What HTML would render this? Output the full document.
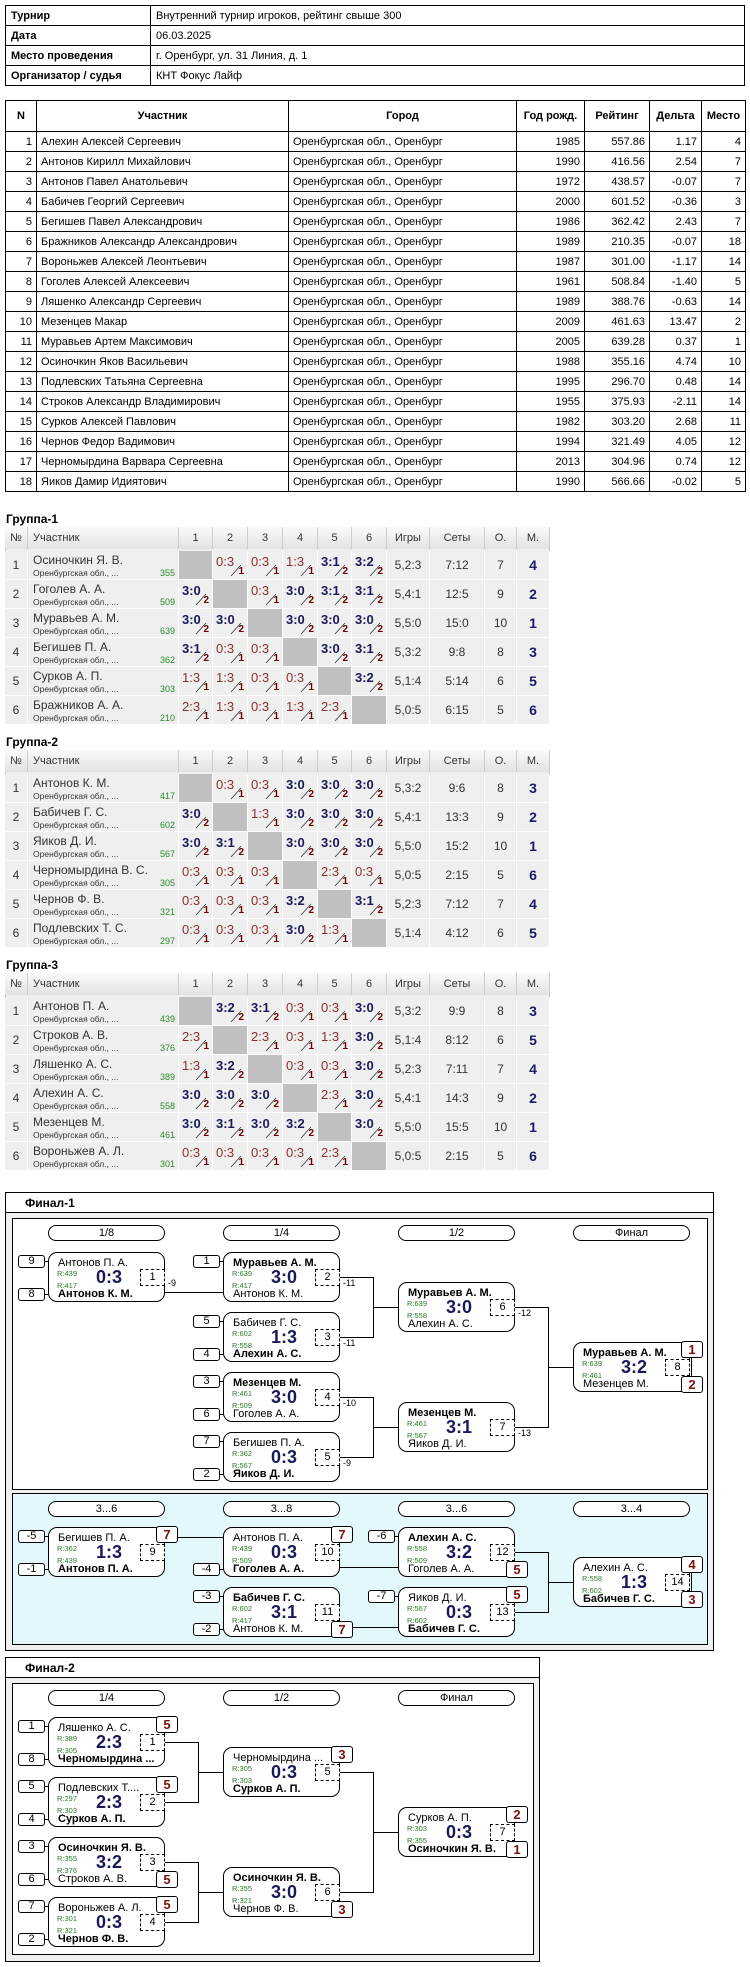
<!DOCTYPE html>
<html><head><meta charset="utf-8">
<style>
*{box-sizing:border-box;margin:0;padding:0}
body{width:750px;height:1967px;background:#fff;position:relative;font-family:"Liberation Sans",sans-serif;overflow:hidden}
.abs{position:absolute}
table{border-collapse:collapse;table-layout:fixed;position:absolute}
.t1 td{border:1px solid #000;height:20px;font-size:11px;padding:0 5px;white-space:nowrap;font-family:"Liberation Sans Narrow","Liberation Sans",sans-serif}
.t1 td.b{font-weight:bold}
.t2 td,.t2 th{border:1px solid #000;font-size:11px;padding:0 4px;white-space:nowrap;overflow:hidden;font-family:"Liberation Sans Narrow","Liberation Sans",sans-serif}
.t2 th{height:31px;font-weight:bold}
.t2 td{height:20px}
.t2 .r{text-align:right}
.glabel{position:absolute;left:6px;font-size:12px;font-weight:bold}
.gt{position:absolute;left:5px;border:1px solid #bbb;background:#eee}
.gh{position:absolute;height:22px;border-right:1px solid #ccc;background:linear-gradient(#fafafa,#e2e2e2);font-size:11px;color:#333;line-height:22px;text-align:center}
.gc{position:absolute;height:29px;border-right:1px solid #fff;border-bottom:1px solid #fff;background:#efefef;font-size:11px;color:#333}
.gray{background:#c0c0c0}
.box{position:absolute;border:1px solid #000}
.pill{position:absolute;width:117px;height:16px;border:1px solid #000;border-radius:8px;background:#fff;font-size:11px;text-align:center;line-height:14px}
.mb{position:absolute;width:117px;height:50px;border:1px solid #000;border-radius:9px;background:#fff}
.nm{position:absolute;left:9px;font-size:11px;white-space:nowrap;line-height:12px}
.rt{position:absolute;left:8px;font-size:7.5px;color:#2a7a2a;line-height:8px}
.sc{position:absolute;left:38px;width:44px;text-align:center;top:15px;font-size:18px;font-weight:bold;color:#1a1a5a;line-height:19px}
.num{position:absolute;right:-1px;top:16px;width:25px;height:17px;border:1px dashed #000;font-size:11px;text-align:center;line-height:15px;background:#fff}
.seed{position:absolute;width:27px;height:13px;border:1px solid #000;border-radius:3px;background:#fff;font-size:11px;text-align:center;line-height:11px}
.pl{position:absolute;width:22px;height:17px;border:1px solid #000;border-radius:3px;background:#fff;font-size:13px;font-weight:bold;color:#7a1010;text-align:center;line-height:15px}
.ln{position:absolute;background:#000}
.lbl{position:absolute;font-size:9px}
</style></head><body>

<table class="t1" style="left:5px;top:5px;width:740px">
<colgroup><col style="width:145px"><col></colgroup>
<tr><td class="b">Турнир</td><td>Внутренний турнир игроков, рейтинг свыше 300</td></tr>
<tr><td class="b">Дата</td><td>06.03.2025</td></tr>
<tr><td class="b">Место проведения</td><td>г. Оренбург, ул. 31 Линия, д. 1</td></tr>
<tr><td class="b">Организатор / судья</td><td>КНТ Фокус Лайф</td></tr>
</table>

<table class="t2" id="players" style="left:5px;top:100px;width:740px">
<colgroup><col style="width:31px"><col style="width:252px"><col style="width:228px"><col style="width:68px"><col style="width:65px"><col style="width:52px"><col style="width:44px"></colgroup>
<tr><th>N</th><th>Участник</th><th>Город</th><th>Год рожд.</th><th>Рейтинг</th><th>Дельта</th><th>Место</th></tr>
</table>

<div id="groups"></div>
<div id="finals"></div>

<script>
const playerNames=["Алехин Алексей Сергеевич","Антонов Кирилл Михайлович","Антонов Павел Анатольевич","Бабичев Георгий Сергеевич","Бегишев Павел Александрович","Бражников Александр Александрович","Вороньжев Алексей Леонтьевич","Гоголев Алексей Алексеевич","Ляшенко Александр Сергеевич","Мезенцев Макар","Муравьев Артем Максимович","Осиночкин Яков Васильевич","Подлевских Татьяна Сергеевна","Строков Александр Владимирович","Сурков Алексей Павлович","Чернов Федор Вадимович","Черномырдина Варвара Сергеевна","Яиков Дамир Идиятович"];
const playerYears=[1985,1990,1972,2000,1986,1989,1987,1961,1989,2009,2005,1988,1995,1955,1982,1994,2013,1990];
const playerRatings=["557.86","416.56","438.57","601.52","362.42","210.35","301.00","508.84","388.76","461.63","639.28","355.16","296.70","375.93","303.20","321.49","304.96","566.66"];
const playerDeltas=["1.17","2.54","-0.07","-0.36","2.43","-0.07","-1.17","-1.40","-0.63","13.47","0.37","4.74","0.48","-2.11","2.68","4.05","0.74","-0.02"];
const playerPlaces=[4,7,7,3,7,18,14,5,14,2,1,10,14,14,11,12,12,5];

const groupTitles=["Группа-1","Группа-2","Группа-3"];
const groupNames=[["Осиночкин Я. В.","Гоголев А. А.","Муравьев А. М.","Бегишев П. А.","Сурков А. П.","Бражников А. А."],
["Антонов К. М.","Бабичев Г. С.","Яиков Д. И.","Черномырдина В. С.","Чернов Ф. В.","Подлевских Т. С."],
["Антонов П. А.","Строков А. В.","Ляшенко А. С.","Алехин А. С.","Мезенцев М.","Вороньжев А. Л."]];
const groupRatings=[[355,509,639,362,303,210],[417,602,567,305,321,297],[439,376,389,558,461,301]];
const groupScores=[
[["","0:3","0:3","1:3","3:1","3:2"],["3:0","","0:3","3:0","3:1","3:1"],["3:0","3:0","","3:0","3:0","3:0"],["3:1","0:3","0:3","","3:0","3:1"],["1:3","1:3","0:3","0:3","","3:2"],["2:3","1:3","0:3","1:3","2:3",""]],
[["","0:3","0:3","3:0","3:0","3:0"],["3:0","","1:3","3:0","3:0","3:0"],["3:0","3:1","","3:0","3:0","3:0"],["0:3","0:3","0:3","","2:3","0:3"],["0:3","0:3","0:3","3:2","","3:1"],["0:3","0:3","0:3","3:0","1:3",""]],
[["","3:2","3:1","0:3","0:3","3:0"],["2:3","","2:3","0:3","1:3","3:0"],["1:3","3:2","","0:3","0:3","3:0"],["3:0","3:0","3:0","","2:3","3:0"],["3:0","3:1","3:0","3:2","","3:0"],["0:3","0:3","0:3","0:3","2:3",""]]];
const groupGames=[["5,2:3","5,4:1","5,5:0","5,3:2","5,1:4","5,0:5"],["5,3:2","5,4:1","5,5:0","5,0:5","5,2:3","5,1:4"],["5,3:2","5,1:4","5,2:3","5,4:1","5,5:0","5,0:5"]];
const groupSets=[["7:12","12:5","15:0","9:8","5:14","6:15"],["9:6","13:3","15:2","2:15","7:12","4:12"],["9:9","8:12","7:11","14:3","15:5","2:15"]];
const groupPoints=[[7,9,10,8,6,5],[8,9,10,5,7,6],[8,6,7,9,10,5]];
const groupPlaces=[[4,2,1,3,5,6],[3,2,1,6,4,5],[3,5,4,2,1,6]];

const pt=document.getElementById('players');
playerNames.forEach((n,i)=>{
  const tr=document.createElement('tr');
  
  
  tr.innerHTML=`<td class="r">${i+1}</td><td>${n}</td><td>Оренбургская обл., Оренбург</td><td class="r">${playerYears[i]}</td><td class="r">${playerRatings[i]}</td><td class="r">${playerDeltas[i]}</td><td class="r">${playerPlaces[i]}</td>`;
  pt.appendChild(tr);
});

function mk(parent,cls,style,html){const d=document.createElement('div');if(cls)d.className=cls;d.style.cssText=style;if(html!==undefined)d.innerHTML=html;parent.appendChild(d);return d;}

const colX=[5,28,179,213,248,283,318,352,387,430,485,517,550];
const hdr=["№","Участник","1","2","3","4","5","6","Игры","Сеты","О.","М."];
const G=document.getElementById('groups');
groupTitles.forEach((t,g)=>{
  const Y=512+g*223;
  const lab=mk(G,'glabel',`top:${Y}px`,t);
  
  
  const tb=mk(G,'gt',`top:${Y+15}px;width:${550-5}px;height:${22+2+6*29}px`);
  
  
  hdr.forEach((h,c)=>{
    const d=mk(G,'gh',`left:${colX[c]}px;top:${Y+15}px;width:${colX[c+1]-colX[c]}px;${c==1?'text-align:left;padding-left:5px':''}`,h);
    
    
  });
  for(let r=0;r<6;r++){
    const ry=Y+39+r*29;
    const a=mk(G,'gc',`left:5px;top:${ry}px;width:23px;text-align:center;line-height:29px;font-size:12px`,r+1);
    
    
    const p=mk(G,'gc',`left:28px;top:${ry}px;width:151px`,`<div class="abs" style="left:5px;top:2px;font-size:12px">${groupNames[g][r]}</div><div class="abs" style="left:5px;top:17px;font-size:8.5px">Оренбургская обл., ...</div><div class="abs" style="right:3px;top:17px;font-size:9px;color:#2a8a2a">${groupRatings[g][r]}</div>`);
    
    
    for(let c=0;c<6;c++){
      const x=colX[c+2],w=colX[c+3]-x;
      const s=groupScores[g][r][c];
      if(!s){const e=mk(G,'gc gray',`left:${x}px;top:${ry}px;width:${w}px`);
        
        continue;}
      const [a1,b1]=s.split(':').map(Number);
      const win=a1>b1;
      const html=`<div class="abs" style="left:3px;top:3px;font-size:13px;${win?'font-weight:bold;color:#1a1a5a':'color:#8a3030'}">${s}</div>
      <svg class="abs" style="left:0;top:0" width="${w}" height="29"><line x1="${w-17}" y1="25" x2="${w-7}" y2="14" stroke="#333" stroke-width="0.8"/></svg>
      <div class="abs" style="right:3px;top:15px;font-size:10px;font-weight:bold;color:#6a0000">${win?2:1}</div>`;
      const e=mk(G,'gc',`left:${x}px;top:${ry}px;width:${w}px`,html);
      
      
    }
    const vals=[groupGames[g][r],groupSets[g][r],groupPoints[g][r],groupPlaces[g][r]];
    vals.forEach((v,k)=>{
      const x=colX[8+k],w=colX[9+k]-x;
      const e=mk(G,'gc',`left:${x}px;top:${ry}px;width:${w}px;text-align:center;line-height:29px;${k==3?'font-size:14px;font-weight:bold;color:#1a1a6a':'font-size:12px'}`,v);
      
      
    });
  }
});

const bx=[48,223,398,573];
const F=document.getElementById('finals');
function frame(top,right,bottom,title){
  const o=mk(F,'box',`left:5px;top:${top}px;width:${right-5}px;height:${bottom-top}px;background:#f0f0f0`);
  
  
  const tt=mk(F,'box',`left:5px;top:${top}px;width:${right-5}px;height:${21}px;background:#fff`);
  
  
  const tl=mk(F,'abs',`left:25px;top:${top+4}px;font-size:12px;font-weight:bold`,title);
  
  
}
function panel(top,bottom,right,bg){
  const p=mk(F,'box',`left:12px;top:${top}px;width:${right-12}px;height:${bottom-top}px;background:${bg}`);
  
  
}
function pills(y,labels){
  labels.forEach((l,i)=>{const p=mk(F,'pill',`left:${bx[i]}px;top:${y}px`,l);
    
    });
}
function line(x1,y1,x2,y2){
  if(y1==y2)return mk(F,'ln',`left:${Math.min(x1,x2)}px;top:${y1}px;width:${Math.abs(x2-x1)+1}px;height:1px`);
  return mk(F,'ln',`left:${x1}px;top:${Math.min(y1,y2)}px;width:1px;height:${Math.abs(y2-y1)+1}px`);
}
function match(m){
  const x=bx[m.c],y=m.y;
  const [a1,b1]=m.sc.split(':').map(Number);
  const topWin=a1>b1;
  const box=mk(F,'mb',`left:${x}px;top:${y}px`,
   `<div class="nm" style="top:4px;${topWin?'font-weight:bold':''}">${m.a}</div>
    <div class="rt" style="top:17px">R:${m.ra}</div><div class="rt" style="top:29px">R:${m.rb}</div>
    <div class="sc">${m.sc}</div>
    <div class="nm" style="top:35px;${!topWin?'font-weight:bold':''}">${m.b}</div>
    <div class="num">${m.n}</div>`);
  
  
  if(m.s1!==undefined){line(x-3,y+9,x,y+9);const s=mk(F,'seed',`left:${x-30}px;top:${y+3}px`,m.s1);
    
    }
  if(m.s2!==undefined){line(x-3,y+42,x,y+42);const s=mk(F,'seed',`left:${x-30}px;top:${y+36}px`,m.s2);
    
    }
  if(m.p1!==undefined){const p=mk(F,'pl',`left:${x+108}px;top:${y-1}px`,m.p1);
    
    }
  if(m.p2!==undefined){const p=mk(F,'pl',`left:${x+108}px;top:${y+34}px`,m.p2);
    
    }
  if(m.p1!==undefined&&m.p2!==undefined&&m.c==3){line(x+117+1,y+16,x+117+1,y+34);}
  if(m.l){const l=mk(F,'lbl',`left:${x+120}px;top:${y+26}px`,m.l);
    
    }
}
function pair(m1,m2,t){
  const x=bx[m1.c]+117, vx=x+33, y1=m1.y+25, y2=m2.y+25, ty=t.y+25;
  line(x,y1,vx,y1);line(x,y2,vx,y2);line(vx,y1,vx,y2);line(vx,ty,bx[t.c],ty);
}

const f1Rounds=["1/8","1/4","1/2","Финал"];
const f1Matches=[
 {c:0,y:1252,a:"Антонов П. А.",b:"Антонов К. М.",ra:439,rb:417,sc:"0:3",n:1,s1:9,s2:8,l:"-9"},
 {c:1,y:1252,a:"Муравьев А. М.",b:"Антонов К. М.",ra:639,rb:417,sc:"3:0",n:2,s1:1,l:"-11"},
 {c:1,y:1312,a:"Бабичев Г. С.",b:"Алехин А. С.",ra:602,rb:558,sc:"1:3",n:3,s1:5,s2:4,l:"-11"},
 {c:1,y:1372,a:"Мезенцев М.",b:"Гоголев А. А.",ra:461,rb:509,sc:"3:0",n:4,s1:3,s2:6,l:"-10"},
 {c:1,y:1432,a:"Бегишев П. А.",b:"Яиков Д. И.",ra:362,rb:567,sc:"0:3",n:5,s1:7,s2:2,l:"-9"},
 {c:2,y:1282,a:"Муравьев А. М.",b:"Алехин А. С.",ra:639,rb:558,sc:"3:0",n:6,l:"-12"},
 {c:2,y:1402,a:"Мезенцев М.",b:"Яиков Д. И.",ra:461,rb:567,sc:"3:1",n:7,l:"-13"},
 {c:3,y:1342,a:"Муравьев А. М.",b:"Мезенцев М.",ra:639,rb:461,sc:"3:2",n:8,p1:1,p2:2}];
const f1bRounds=["3...6","3...8","3...6","3...4"];
const f1bMatches=[
 {c:0,y:1527,a:"Бегишев П. А.",b:"Антонов П. А.",ra:362,rb:439,sc:"1:3",n:9,s1:-5,s2:-1,p1:7},
 {c:1,y:1527,a:"Антонов П. А.",b:"Гоголев А. А.",ra:439,rb:509,sc:"0:3",n:10,s2:-4,p1:7},
 {c:1,y:1587,a:"Бабичев Г. С.",b:"Антонов К. М.",ra:602,rb:417,sc:"3:1",n:11,s1:-3,s2:-2,p2:7},
 {c:2,y:1527,a:"Алехин А. С.",b:"Гоголев А. А.",ra:558,rb:509,sc:"3:2",n:12,s1:-6,p2:5},
 {c:2,y:1587,a:"Яиков Д. И.",b:"Бабичев Г. С.",ra:567,rb:602,sc:"0:3",n:13,s1:-7,p1:5},
 {c:3,y:1557,a:"Алехин А. С.",b:"Бабичев Г. С.",ra:558,rb:602,sc:"1:3",n:14,p1:4,p2:3}];
const f2Rounds=["1/4","1/2","Финал"];
const f2Matches=[
 {c:0,y:1717,a:"Ляшенко А. С.",b:"Черномырдина ...",ra:389,rb:305,sc:"2:3",n:1,s1:1,s2:8,p1:5},
 {c:0,y:1777,a:"Подлевских Т....",b:"Сурков А. П.",ra:297,rb:303,sc:"2:3",n:2,s1:5,s2:4,p1:5},
 {c:0,y:1837,a:"Осиночкин Я. В.",b:"Строков А. В.",ra:355,rb:376,sc:"3:2",n:3,s1:3,s2:6,p2:5},
 {c:0,y:1897,a:"Вороньжев А. Л.",b:"Чернов Ф. В.",ra:301,rb:321,sc:"0:3",n:4,s1:7,s2:2,p1:5},
 {c:1,y:1747,a:"Черномырдина ...",b:"Сурков А. П.",ra:305,rb:303,sc:"0:3",n:5,p1:3},
 {c:1,y:1867,a:"Осиночкин Я. В.",b:"Чернов Ф. В.",ra:355,rb:321,sc:"3:0",n:6,p2:3},
 {c:2,y:1807,a:"Сурков А. П.",b:"Осиночкин Я. В.",ra:303,rb:355,sc:"0:3",n:7,p1:2,p2:1}];

frame(1192,714,1651,"Финал-1");
panel(1218,1490,708,'#fff');
panel(1493,1645,708,'#e2f8fa');
pills(1225,f1Rounds);
pills(1501,f1bRounds);
{const M=f1Matches;
 line(165,M[0].y+40,bx[1],M[0].y+40);
 pair(M[1],M[2],M[5]);pair(M[3],M[4],M[6]);pair(M[5],M[6],M[7]);
 M.forEach(match);}
{const M=f1bMatches;
 line(bx[0]+130,M[0].y+10,bx[1],M[0].y+10);
 line(bx[1]+117,M[1].y+40,bx[2],M[1].y+40);
 line(bx[1]+130,M[2].y+40,bx[2],M[2].y+40);
 pair(M[3],M[4],M[5]);
 M.forEach(match);}
frame(1657,540,1962,"Финал-2");
panel(1683,1955,534,'#fff');
pills(1690,f2Rounds);
{const M=f2Matches;
 pair(M[0],M[1],M[4]);pair(M[2],M[3],M[5]);pair(M[4],M[5],M[6]);
 M.forEach(match);}
</script>
</body></html>
